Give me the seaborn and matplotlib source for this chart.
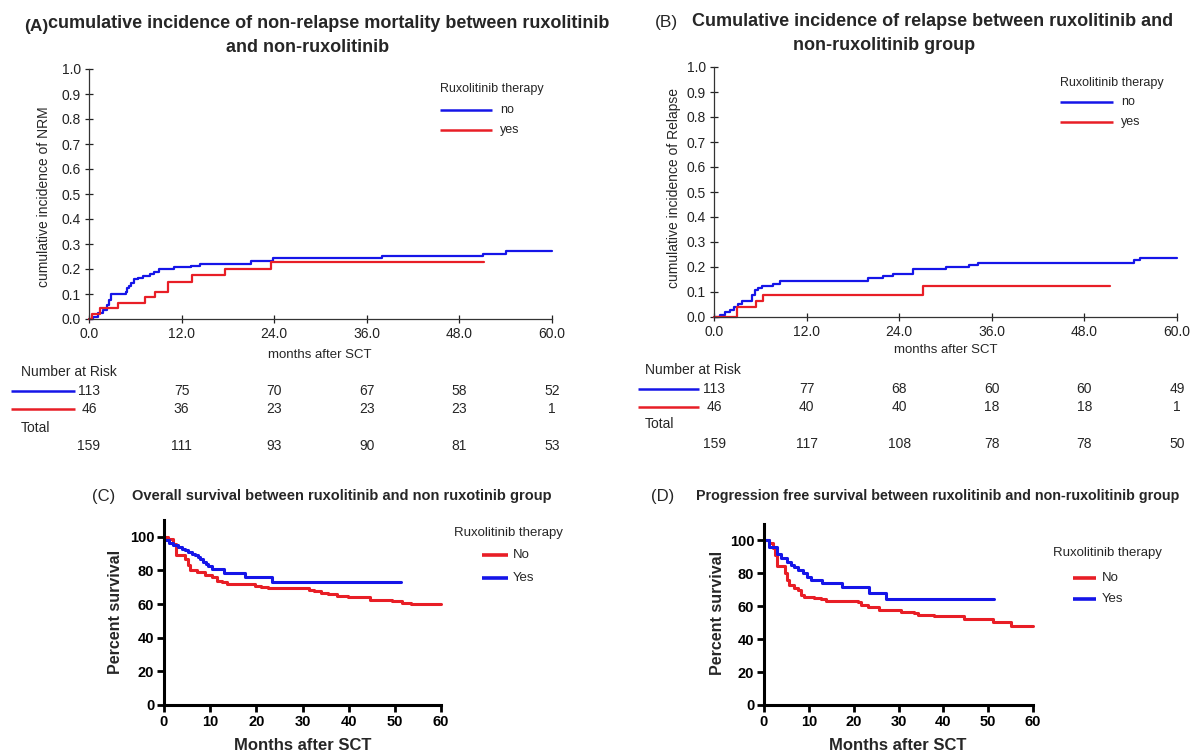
import pandas as pd
import matplotlib
matplotlib.use('Agg')
import matplotlib.pyplot as plt
import matplotlib.transforms as mtransforms
from matplotlib.lines import Line2D
import seaborn as sns

BLUE = '#1515e8'
RED = '#e81e26'
W, H = 1192, 751

# ---- (A) cumulative incidence of NRM ----
nrm_no_t = [0, 0.56, 1.2, 1.85, 2.3, 2.6, 2.84, 4.74, 4.9, 5.17, 5.5, 5.86, 6.38, 7.0, 7.9, 8.4, 9.05,
            11.0, 13.2, 14.35, 21.0, 23.8, 38.0, 51.1, 54.0, 60.0]
nrm_no_v = [0, 0.01, 0.023, 0.036, 0.056, 0.076, 0.10, 0.109, 0.123, 0.133, 0.145, 0.16, 0.165, 0.173,
            0.18, 0.19, 0.20, 0.207, 0.213, 0.222, 0.232, 0.243, 0.252, 0.262, 0.272, 0.272]
nrm_yes_t = [0, 0.34, 1.4, 3.8, 7.2, 8.5, 10.3, 13.3, 17.6, 23.6, 51.2]
nrm_yes_v = [0, 0.02, 0.043, 0.063, 0.087, 0.11, 0.147, 0.175, 0.20, 0.227, 0.227]

# ---- (B) cumulative incidence of relapse ----
rel_no_t = [0, 0.78, 1.42, 2.07, 2.59, 3.15, 3.58, 4.87, 5.3, 5.73, 6.16, 7.67, 8.53, 19.96, 21.9,
            23.2, 25.8, 30.1, 33.1, 34.2, 54.4, 55.2, 60.0]
rel_no_v = [0, 0.008, 0.019, 0.028, 0.041, 0.05, 0.064, 0.088, 0.108, 0.115, 0.124, 0.133, 0.145,
            0.155, 0.163, 0.171, 0.19, 0.199, 0.208, 0.217, 0.228, 0.236, 0.236]
rel_yes_t = [0, 2.93, 5.5, 6.4, 27.1, 51.3]
rel_yes_v = [0, 0.041, 0.064, 0.088, 0.125, 0.125]

# number at risk tables
risk_months = [0, 12, 24, 36, 48, 60]
nrm_risk_no = [113, 75, 70, 67, 58, 52]
nrm_risk_yes = [46, 36, 23, 23, 23, 1]
nrm_risk_total = [159, 111, 93, 90, 81, 53]
rel_risk_no = [113, 77, 68, 60, 60, 49]
rel_risk_yes = [46, 40, 40, 18, 18, 1]
rel_risk_total = [159, 117, 108, 78, 78, 50]

# ---- (C) overall survival ----
os_no_t = [0, 0.9, 2.0, 2.7, 4.5, 5.3, 5.7, 7.1, 8.9, 10.3, 11.4, 12.5, 13.6, 19.7, 21.1, 22.6, 31.3,
           32.5, 34.0, 35.6, 37.5, 39.9, 44.6, 49.3, 51.5, 53.6, 60.0]
os_no_v = [100, 99, 96, 89, 87, 83, 80.5, 79, 77.5, 76, 74, 73, 71.8, 71, 70, 69.3, 68.3, 67.5, 66.5,
           65.8, 65, 64.3, 62.5, 61.8, 60.8, 59.8, 59.8]
os_yes_t = [0, 1.0, 2.0, 3.0, 3.8, 4.5, 5.3, 6.0, 6.7, 7.3, 7.8, 8.5, 9.0, 9.6, 10.3, 12.9, 17.5,
            23.3, 51.3]
os_yes_v = [98, 96.5, 95, 94, 93, 92, 91, 90, 89, 88, 87, 85, 84, 82.6, 80.8, 78.6, 76.2, 73.3, 73.3]

# ---- (D) progression free survival ----
pfs_no_t = [0, 1.1, 1.9, 2.4, 2.8, 3.0, 4.7, 5.2, 5.6, 6.7, 7.5, 8.2, 8.9, 11.2, 12.7, 13.8, 20.9,
            21.6, 23.1, 25.7, 30.6, 33.5, 34.3, 38.0, 44.7, 51.0, 55.1, 60.0]
pfs_no_v = [100, 98.4, 95.3, 91.3, 87.2, 84.2, 80, 76, 73, 71, 69.6, 67, 65.9, 64.9, 64.3, 63.5, 62.3,
            60.9, 59.4, 57.8, 56.8, 55.8, 54.8, 53.8, 52.1, 50.7, 48.1, 48.1]
pfs_yes_t = [0, 1.1, 3.0, 3.7, 5.2, 6.0, 6.7, 7.5, 8.6, 9.7, 10.4, 13.0, 17.5, 23.5, 27.2, 51.3]
pfs_yes_v = [100, 96, 92, 89.2, 87.2, 85.2, 83.8, 82.2, 80, 78, 76, 74.2, 71.6, 68, 64.5, 64.5]


def frame(no_t, no_v, yes_t, yes_v):
    a = pd.DataFrame({'t': no_t, 'v': no_v, 'g': 'no'})
    b = pd.DataFrame({'t': yes_t, 'v': yes_v, 'g': 'yes'})
    return pd.concat([a, b], ignore_index=True)


def fx(x):
    return x / W


def fy(y):
    return 1 - y / H


sns.set_style('ticks')
plt.rcParams['font.family'] = ['Liberation Sans', 'DejaVu Sans']

fig = plt.figure(figsize=(11.92, 7.51), dpi=100)
fig.patch.set_facecolor('white')


def txt(x, y, s, **kw):
    kw.setdefault('va', 'center')
    fig.text(fx(x), fy(y), s, **kw)


def key_line(x0, x1, y, color, lw):
    fig.add_artist(Line2D([fx(x0), fx(x1)], [fy(y), fy(y)], color=color, lw=lw,
                          transform=fig.transFigure, solid_capstyle='butt'))


def incidence_panel(rect, df):
    ax = fig.add_axes(rect)
    sns.lineplot(data=df, x='t', y='v', hue='g', palette={'no': BLUE, 'yes': RED},
                 estimator=None, drawstyle='steps-post', linewidth=1.6, legend=False,
                 ax=ax, clip_on=False)
    ax.set_xlim(0, 60)
    ax.set_ylim(0, 1)
    ax.set_xticks(risk_months)
    ax.set_xticklabels([f'{m:.1f}' for m in risk_months])
    ax.set_yticks([i / 10 for i in range(11)])
    ax.set_yticklabels([f'{i / 10:.1f}' for i in range(11)])
    ax.tick_params(direction='inout', length=6, width=0.9, labelsize=10, pad=3, colors='#222222')
    for s in ['top', 'right']:
        ax.spines[s].set_visible(False)
    for s in ['left', 'bottom']:
        ax.spines[s].set_linewidth(0.9)
        ax.spines[s].set_color('#333333')
    ax.set_xlabel('')
    ax.set_ylabel('')
    return ax


def survival_panel(rect, df):
    ax = fig.add_axes(rect)
    sns.lineplot(data=df, x='t', y='v', hue='g', palette={'no': RED, 'yes': BLUE},
                 estimator=None, drawstyle='steps-post', linewidth=2.2, legend=False,
                 ax=ax, clip_on=False)
    ax.set_xlim(0, 60)
    ax.set_ylim(0, 110)
    ax.set_xticks(range(0, 61, 10))
    ax.set_yticks(range(0, 101, 20))
    ax.tick_params(direction='out', length=5, width=2, labelsize=10.5, pad=2, colors='black')
    for lab in ax.get_xticklabels() + ax.get_yticklabels():
        lab.set_fontweight('bold')
    for s in ['top', 'right']:
        ax.spines[s].set_visible(False)
    for s in ['left', 'bottom']:
        ax.spines[s].set_linewidth(2.2)
        ax.spines[s].set_color('black')
    ax.set_xlabel('')
    ax.set_ylabel('')
    return ax


def risk_table(ax, rows, y_rows, y_head, y_total, x_text, line_x):
    tr = mtransforms.blended_transform_factory(ax.transData, fig.transFigure)
    txt(x_text, y_head, 'Number at Risk', fontsize=10)
    txt(x_text, y_total, 'Total', fontsize=10)
    for (vals, color), yy in zip(rows, y_rows):
        if color is not None:
            key_line(line_x[0], line_x[1], yy, color, 1.8)
        for m, v in zip(risk_months, vals):
            ax.text(m, fy(yy), str(v), transform=tr, ha='center', va='center', fontsize=10)


# panel A
axA = incidence_panel([fx(89), fy(319), fx(552) - fx(89), fy(69) - fy(319)],
                      frame(nrm_no_t, nrm_no_v, nrm_yes_t, nrm_yes_v))
txt(24, 26, '(A)', fontsize=12.5, fontweight='bold')
txt(48, 23, 'cumulative incidence of non-relapse mortality between ruxolitinib',
    fontsize=13, fontweight='bold')
txt(308, 47, 'and non-ruxolitinib', fontsize=13, fontweight='bold', ha='center')
txt(44, 197, 'cumulative incidence of NRM', fontsize=10, rotation=90, ha='center')
txt(320, 355, 'months after SCT', fontsize=9.5, ha='center')
txt(440, 89, 'Ruxolitinib therapy', fontsize=9)
key_line(440, 492, 110, BLUE, 1.8)
key_line(440, 492, 130, RED, 1.8)
txt(500, 110, 'no', fontsize=9)
txt(500, 130, 'yes', fontsize=9)
risk_table(axA, [(nrm_risk_no, BLUE), (nrm_risk_yes, RED), (nrm_risk_total, None)],
           [391, 409, 446], 372, 428, 21, (11, 75))

# panel B
axB = incidence_panel([fx(714), fy(317), fx(1177) - fx(714), fy(67) - fy(317)],
                      frame(rel_no_t, rel_no_v, rel_yes_t, rel_yes_v))
txt(655, 22, '(B)', fontsize=12.5)
txt(692, 22, 'Cumulative incidence of relapse between ruxolitinib and',
    fontsize=13, fontweight='bold')
txt(884, 46, 'non-ruxolitinib group', fontsize=13, fontweight='bold', ha='center')
txt(674, 188, 'cumulative incidence of Relapse', fontsize=10, rotation=90, ha='center')
txt(946, 350, 'months after SCT', fontsize=9.5, ha='center')
txt(1060, 83, 'Ruxolitinib therapy', fontsize=9)
key_line(1060, 1113, 102, BLUE, 1.8)
key_line(1060, 1113, 122, RED, 1.8)
txt(1121, 102, 'no', fontsize=9)
txt(1121, 122, 'yes', fontsize=9)
risk_table(axB, [(rel_risk_no, BLUE), (rel_risk_yes, RED), (rel_risk_total, None)],
           [389, 407, 444], 370, 424, 645, (638, 699))

# panel C
axC = survival_panel([fx(164), fy(705), fx(441) - fx(164), fy(520) - fy(705)],
                     frame(os_no_t, os_no_v, os_yes_t, os_yes_v))
txt(92, 496, '(C)', fontsize=12)
txt(132, 496, 'Overall survival between ruxolitinib and non ruxotinib group',
    fontsize=10.5, fontweight='bold')
txt(115, 612, 'Percent survival', fontsize=11.5, fontweight='bold', rotation=90, ha='center')
txt(303, 745, 'Months after SCT', fontsize=12, fontweight='bold', ha='center')
txt(454, 533, 'Ruxolitinib therapy', fontsize=9.5)
key_line(482, 508, 555, RED, 2.6)
key_line(482, 508, 578, BLUE, 2.6)
txt(513, 555, 'No', fontsize=9.5)
txt(513, 578, 'Yes', fontsize=9.5)

# panel D
axD = survival_panel([fx(764), fy(705), fx(1033) - fx(764), fy(524) - fy(705)],
                     frame(pfs_no_t, pfs_no_v, pfs_yes_t, pfs_yes_v))
txt(651, 496, '(D)', fontsize=12)
txt(696, 496, 'Progression free survival between ruxolitinib and non-ruxolitinib group',
    fontsize=10.3, fontweight='bold')
txt(717, 613, 'Percent survival', fontsize=11.5, fontweight='bold', rotation=90, ha='center')
txt(898, 745, 'Months after SCT', fontsize=12, fontweight='bold', ha='center')
txt(1053, 553, 'Ruxolitinib therapy', fontsize=9.5)
key_line(1073, 1096, 578, RED, 2.6)
key_line(1073, 1096, 599, BLUE, 2.6)
txt(1102, 578, 'No', fontsize=9.5)
txt(1102, 599, 'Yes', fontsize=9.5)

fig.savefig('out.png', dpi=100)
